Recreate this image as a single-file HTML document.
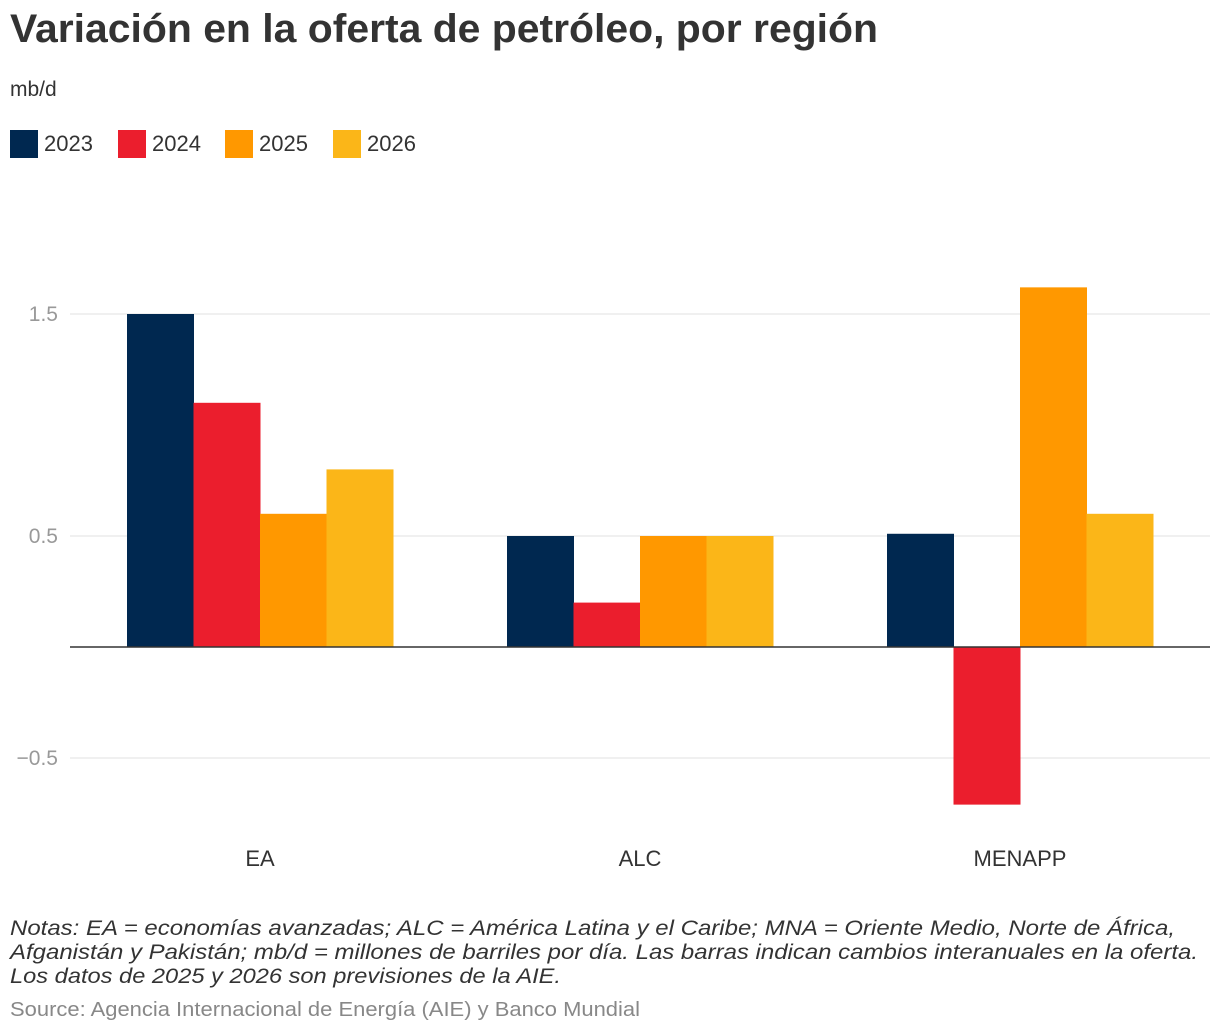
<!DOCTYPE html>
<html><head><meta charset="utf-8"><style>
html,body{margin:0;padding:0;background:#fff;}
svg{display:block;font-family:"Liberation Sans",Arial,sans-serif;}
</style></head><body>
<svg id="chart" width="1220" height="1032" viewBox="0 0 1220 1032">
<text x="10" y="42" font-size="40" font-weight="bold" fill="#333" textLength="868" lengthAdjust="spacingAndGlyphs">Variación en la oferta de petróleo, por región</text>
<text x="10" y="96" font-size="21" fill="#333">mb/d</text>
<g id="legend"></g>
<g id="grid"></g>
<g id="bars"></g>
<g id="xlabels"></g>
<g font-size="21" font-style="italic" fill="#333">
<text x="10" y="935" textLength="1165" lengthAdjust="spacingAndGlyphs">Notas: EA = economías avanzadas; ALC = América Latina y el Caribe; MNA = Oriente Medio, Norte de África,</text>
<text x="10" y="959" textLength="1188" lengthAdjust="spacingAndGlyphs">Afganistán y Pakistán; mb/d = millones de barriles por día. Las barras indican cambios interanuales en la oferta.</text>
<text x="10" y="983" textLength="551" lengthAdjust="spacingAndGlyphs">Los datos de 2025 y 2026 son previsiones de la AIE.</text>
</g>
<text x="10" y="1016" font-size="20" fill="#888" textLength="630" lengthAdjust="spacingAndGlyphs">Source: Agencia Internacional de Energía (AIE) y Banco Mundial</text>
</svg>
<script>
const categories = ["EA","ALC","MENAPP"];
const seriesNames = ["2023","2024","2025","2026"];
const seriesColors = ["#002850","#eb1e2d","#ff9800","#fbb618"];
const values2023 = [1.5, 0.5, 0.51];
const values2024 = [1.1, 0.2, -0.71];
const values2025 = [0.6, 0.5, 1.62];
const values2026 = [0.8, 0.5, 0.6];
const yTicks = [-0.5, 0.5, 1.5];
const yTickLabels = ["\u22120.5","0.5","1.5"];
const series = [values2023, values2024, values2025, values2026];

const NS = "http://www.w3.org/2000/svg";
const plotLeft = 70, plotRight = 1210;
const y = v => 647 - v * 222;
const band = (plotRight - plotLeft) / categories.length;
const pad = 57;
const barW = (band - 2 * pad) / series.length;
function mk(tag, attrs, parent){const e=document.createElementNS(NS,tag);for(const k in attrs)e.setAttribute(k,attrs[k]);parent.appendChild(e);return e;}

const grid = document.getElementById("grid");
yTicks.forEach((t,i)=>{
  const l = mk("line",{x1:plotLeft,x2:plotRight,y1:y(t),y2:y(t),stroke:"#e0e0e0","stroke-width":1},grid);
  
  
  const tx = mk("text",{x:58,y:y(t)+7,"text-anchor":"end","font-size":21,fill:"#999"},grid);
  tx.textContent = yTickLabels[i];
  
  
});

const bars = document.getElementById("bars");
categories.forEach((c,ci)=>{
  series.forEach((s,si)=>{
    const v = s[ci];
    const x0 = plotLeft + ci*band + pad + si*barW;
    const r = mk("rect",{x:x0,y:Math.min(y(v),y(0)),width:barW+0.5,height:Math.abs(y(v)-y(0)),fill:seriesColors[si]},bars);
    
    
  });
  const tx = mk("text",{x:plotLeft+ci*band+band/2,y:866,"text-anchor":"middle","font-size":22,fill:"#333"},document.getElementById("xlabels"));
  tx.textContent = c;
  
  
});
const zl = mk("line",{x1:plotLeft,x2:plotRight,y1:y(0),y2:y(0),stroke:"#333","stroke-width":1.5},bars);



const legend = document.getElementById("legend");
const legX = [10,118,225,333];
seriesNames.forEach((n,i)=>{
  const g = mk("g",{},legend);
  
  
  mk("rect",{x:legX[i],y:130,width:28,height:28,fill:seriesColors[i]},g);
  const t = mk("text",{x:legX[i]+34,y:151,"font-size":22,fill:"#333"},g);
  t.textContent = n;
});
</script>
</body></html>
